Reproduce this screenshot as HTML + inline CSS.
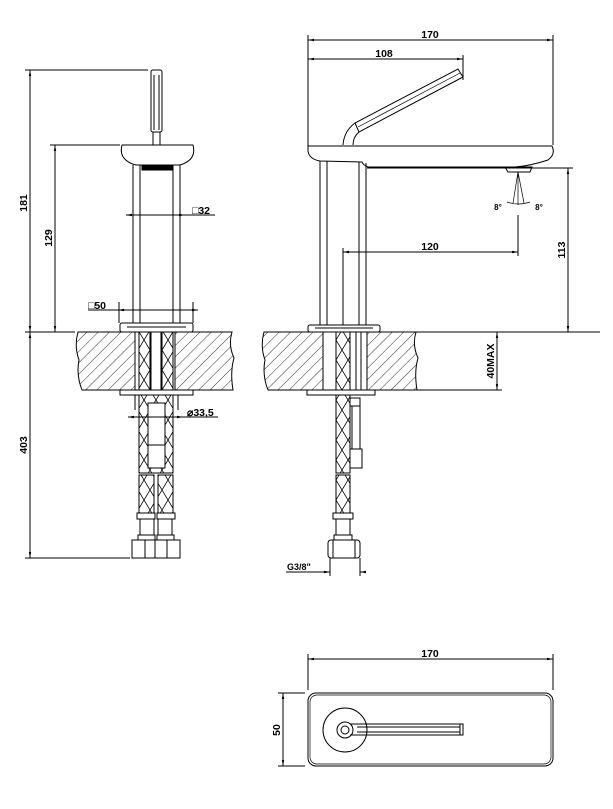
<!DOCTYPE html>
<html><head><meta charset="utf-8"><style>
html,body{margin:0;padding:0;background:#fff;}
svg{display:block;}
text{font-family:"Liberation Sans",sans-serif;font-size:10.5px;font-weight:bold;fill:#000;}
</style></head><body>
<svg width="613" height="809" viewBox="0 0 613 809" xmlns="http://www.w3.org/2000/svg">
<defs>
<pattern id="h" patternUnits="userSpaceOnUse" width="8" height="8" patternTransform="rotate(45)">
<line x1="0" y1="0" x2="0" y2="8" stroke="#000" stroke-width="0.8"/>
</pattern>
<pattern id="x" patternUnits="userSpaceOnUse" width="12" height="20">
<path d="M0 0L12 20M12 0L0 20" stroke="#000" stroke-width="0.8" fill="none"/>
</pattern>
<marker id="a" viewBox="0 0 10 10" refX="10" refY="5" markerWidth="6" markerHeight="6" orient="auto-start-reverse"><path d="M0 3L10 5L0 7z" fill="#000"/></marker>
</defs>
<g stroke="#000" fill="none" stroke-width="1">
<!-- LEFT VIEW -->
<line x1="25" y1="70" x2="148" y2="70"/>
<line x1="30" y1="70" x2="30" y2="332" marker-start="url(#a)" marker-end="url(#a)"/>
<line x1="50" y1="145" x2="120" y2="145"/>
<line x1="55" y1="145" x2="55" y2="332" marker-start="url(#a)" marker-end="url(#a)"/>
<line x1="25" y1="332" x2="75" y2="332"/>
<rect x="151" y="70" width="11" height="62" rx="2"/>
<line x1="154" y1="75" x2="154" y2="130"/><line x1="159" y1="75" x2="159" y2="130"/>
<rect x="153" y="132" width="7" height="13"/>
<path d="M122 145H193Q197 160 180 165H136Q118 160 122 145Z"/>
<rect x="142" y="165" width="30" height="5" fill="#000"/>
<line x1="133" y1="165" x2="133" y2="323"/><line x1="140" y1="165" x2="140" y2="323"/>
<line x1="173" y1="165" x2="173" y2="323"/><line x1="180" y1="165" x2="180" y2="323"/>
<line x1="126" y1="215" x2="185" y2="215" marker-start="url(#a)" marker-end="url(#a)"/>
<line x1="185" y1="215" x2="215" y2="215"/>
<line x1="118" y1="310" x2="198" y2="310" marker-start="url(#a)" marker-end="url(#a)"/>
<line x1="88" y1="310" x2="118" y2="310"/>
<line x1="119" y1="302" x2="119" y2="323"/><line x1="193" y1="302" x2="193" y2="323"/>
<rect x="120" y="323" width="73" height="9" rx="2"/>
<line x1="127" y1="327" x2="186" y2="327"/>
<path d="M78 332H232Q228 345 234 358Q230 372 233 390H82Q76 375 79 360Q74 346 78 332Z" fill="url(#h)"/>
<rect x="135" y="332" width="40" height="58" fill="#fff"/>
<line x1="135" y1="332" x2="135" y2="390"/><line x1="175" y1="332" x2="175" y2="390"/>
<rect x="139" y="332" width="11" height="58" fill="url(#x)"/>
<rect x="162" y="332" width="11" height="58" fill="url(#x)"/>
<rect x="151" y="332" width="10" height="58"/>
<rect x="120" y="390" width="73" height="5"/>
<line x1="135" y1="395" x2="135" y2="410"/><line x1="178" y1="395" x2="178" y2="410"/>
<rect x="139" y="395" width="34" height="78" fill="url(#x)"/>
<rect x="148" y="403" width="17" height="65" fill="#fff"/>
<line x1="148" y1="445" x2="165" y2="445"/>
<line x1="128" y1="417" x2="183" y2="417" marker-start="url(#a)" marker-end="url(#a)"/>
<line x1="183" y1="417" x2="218" y2="417"/>
<rect x="139" y="475" width="15" height="38" fill="url(#x)"/>
<rect x="158" y="475" width="15" height="38" fill="url(#x)"/>
<rect x="137" y="513" width="18" height="6"/><rect x="157" y="513" width="18" height="6"/>
<rect x="140" y="519" width="14" height="16"/><rect x="158" y="519" width="14" height="16"/>
<rect x="138" y="535" width="17" height="5"/><rect x="157" y="535" width="17" height="5"/>
<rect x="132" y="540" width="48" height="18"/>
<line x1="145" y1="540" x2="145" y2="558"/><line x1="155" y1="540" x2="155" y2="558"/><line x1="167" y1="540" x2="167" y2="558"/>
<line x1="30" y1="332" x2="30" y2="558" marker-start="url(#a)" marker-end="url(#a)"/>
<line x1="25" y1="558" x2="130" y2="558"/>

<!-- RIGHT VIEW -->
<line x1="308" y1="35" x2="308" y2="150"/>
<line x1="553" y1="35" x2="553" y2="145"/>
<line x1="463" y1="55" x2="463" y2="80"/>
<line x1="308" y1="40" x2="553" y2="40" marker-start="url(#a)" marker-end="url(#a)"/>
<line x1="308" y1="59" x2="463" y2="59" marker-start="url(#a)" marker-end="url(#a)"/>
<path d="M343 145Q344 131 355 123L458 69L463 77L359 132Q353 137 353 145"/>
<line x1="355" y1="123" x2="359" y2="132"/>
<line x1="358" y1="127" x2="460" y2="73" stroke-width="0.7"/>
<path d="M308 146H552Q556 154 548 160Q530 166 515 167H368Q363 165 362 162L320 161Q309 159 308 151Z"/>
<line x1="320" y1="161" x2="320" y2="325"/><line x1="327" y1="161" x2="327" y2="325"/>
<line x1="359" y1="162" x2="359" y2="325"/><line x1="366" y1="163" x2="366" y2="325"/>
<path d="M505 167H532L530 172H508Z"/>
<path d="M518 172L513 203M518 172L524 203M518 172L518 205" stroke-width="0.7"/>
<path d="M507 202Q518 206 530 202" stroke-width="0.7"/>
<line x1="518" y1="215" x2="518" y2="256"/>
<line x1="343" y1="248" x2="343" y2="325"/>
<line x1="343" y1="252" x2="518" y2="252" marker-start="url(#a)" marker-end="url(#a)"/>
<line x1="367" y1="168" x2="573" y2="168"/>
<line x1="568" y1="168" x2="568" y2="332" marker-start="url(#a)" marker-end="url(#a)"/>
<rect x="308" y="325" width="72" height="7" rx="2"/>
<line x1="315" y1="328" x2="373" y2="328"/>
<path d="M264 332H416Q412 345 418 358Q414 372 417 390H268Q262 375 265 360Q260 346 264 332Z" fill="url(#h)"/>
<line x1="416" y1="332" x2="600" y2="332"/>
<line x1="417" y1="390" x2="502" y2="390"/>
<line x1="497" y1="332" x2="497" y2="390" marker-start="url(#a)" marker-end="url(#a)"/>
<rect x="323" y="332" width="44" height="58" fill="#fff"/>
<line x1="323" y1="332" x2="323" y2="390"/><line x1="367" y1="332" x2="367" y2="390"/>
<rect x="336" y="332" width="14" height="58" fill="url(#x)"/>
<line x1="356" y1="332" x2="356" y2="390"/><line x1="361" y1="332" x2="361" y2="390"/>
<rect x="307" y="390" width="68" height="5"/>
<rect x="336" y="395" width="14" height="78" fill="url(#x)"/>
<rect x="350" y="398" width="10" height="8"/>
<rect x="352" y="406" width="8" height="43"/>
<rect x="350" y="449" width="12" height="19"/>
<rect x="336" y="475" width="14" height="38" fill="url(#x)"/>
<rect x="333" y="513" width="20" height="6"/>
<rect x="336" y="519" width="14" height="16"/>
<rect x="334" y="535" width="18" height="5"/>
<rect x="328" y="540" width="32" height="18" rx="3"/>
<line x1="333" y1="540" x2="333" y2="558"/><line x1="355" y1="540" x2="355" y2="558"/>
<line x1="330" y1="558" x2="330" y2="576"/><line x1="360" y1="558" x2="360" y2="576"/>
<line x1="324" y1="572" x2="330" y2="572" marker-end="url(#a)"/>
<line x1="366" y1="572" x2="360" y2="572" marker-end="url(#a)"/>
<line x1="286" y1="572" x2="324" y2="572"/>

<!-- TOP VIEW -->
<line x1="308" y1="654" x2="308" y2="690"/><line x1="553" y1="654" x2="553" y2="690"/>
<line x1="308" y1="659" x2="553" y2="659" marker-start="url(#a)" marker-end="url(#a)"/>
<line x1="278" y1="693" x2="305" y2="693"/><line x1="278" y1="766" x2="305" y2="766"/>
<line x1="283" y1="693" x2="283" y2="766" marker-start="url(#a)" marker-end="url(#a)"/>
<rect x="308" y="693" width="245" height="73" rx="8"/>
<rect x="310" y="695" width="241" height="69" rx="7" stroke-width="0.7"/>
<circle cx="345" cy="730" r="22"/>
<circle cx="345" cy="730" r="8"/><circle cx="345" cy="730" r="4"/>
<path d="M350 724H463V735H350"/>
<line x1="357" y1="727" x2="460" y2="727"/><line x1="357" y1="732" x2="460" y2="732"/>
<line x1="460" y1="724" x2="460" y2="735"/>
</g>
<g>
<text transform="translate(27,203) rotate(-90)" text-anchor="middle">181</text>
<text transform="translate(52,238) rotate(-90)" text-anchor="middle">129</text>
<text x="192" y="214">□32</text>
<text x="88" y="309">□50</text>
<text x="187" y="416">⌀33,5</text>
<text transform="translate(27,445) rotate(-90)" text-anchor="middle">403</text>
<text x="430" y="38" text-anchor="middle">170</text>
<text x="384" y="57" text-anchor="middle">108</text>
<text x="430" y="250" text-anchor="middle">120</text>
<text transform="translate(565,250) rotate(-90)" text-anchor="middle">113</text>
<text transform="translate(494,361) rotate(-90)" text-anchor="middle">40MAX</text>
<text x="498" y="210" text-anchor="middle" style="font-size:8px">8°</text>
<text x="539" y="210" text-anchor="middle" style="font-size:8px">8°</text>
<text x="287" y="570" style="font-size:9px">G3/8"</text>
<text x="430" y="657" text-anchor="middle">170</text>
<text transform="translate(280,730) rotate(-90)" text-anchor="middle">50</text>
</g>
</svg>
</body></html>
